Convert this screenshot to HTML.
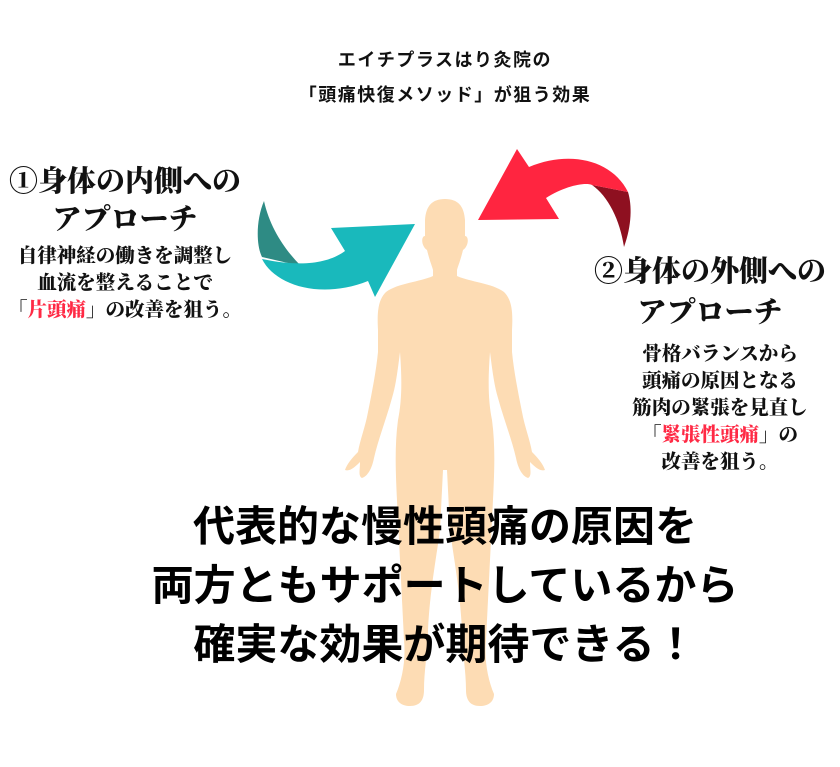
<!DOCTYPE html>
<html><head><meta charset="utf-8"><style>
html,body{margin:0;padding:0;background:#fff;}
body{width:840px;height:767px;position:relative;overflow:hidden;}
.t{position:absolute;white-space:nowrap;text-align:center;}
.sans{font-family:"Liberation Sans","Noto Sans CJK JP",sans-serif;font-weight:bold;color:#111;}
.serif{font-family:"Liberation Serif","Noto Serif CJK SC",serif;font-weight:900;color:#111;}
.red{color:#ff2a45;}
</style></head><body>
<svg width="840" height="767" style="position:absolute;left:0;top:0">
<g fill="#fddcb4">
<path d="M445,199 C432,199 426,206 425,220 L425,236 C421,236 421,246 427,250 C430,262 432,266 433,270 L433,276 C420,282 398,283 386,292 C378,300 377,312 378,330 L378,352 C376,372 372,392 368,412 C365,428 360,440 358,452 C352,458 347,464 345,470 C350,472 356,466 360,462 C360,470 358,476 362,478 C368,476 372,468 374,458 C378,440 386,420 392,398 C396,385 398,368 400,352 C402,380 402,400 398,420 C394,450 396,480 398,520 C400,560 402,600 404,640 C406,660 402,680 396,694 C396,702 402,706 410,706 C420,706 424,700 424,690 C424,670 428,650 428,630 C430,590 436,560 440,530 L443,470 L447,470 L450,530 C454,560 460,590 462,630 C462,650 466,670 466,690 C466,700 470,706 480,706 C488,706 494,702 494,694 C488,680 484,660 486,640 C488,600 490,560 492,520 C494,480 496,450 492,420 C488,400 488,380 490,352 C492,368 494,385 498,398 C504,420 512,440 516,458 C518,468 522,476 528,478 C532,476 530,470 530,462 C534,466 540,472 545,470 C543,464 538,458 532,452 C530,440 525,428 522,412 C518,392 514,372 512,352 L512,330 C513,312 512,300 504,292 C492,283 470,282 457,276 L457,270 C458,266 460,262 463,250 C469,246 469,236 465,236 L465,220 C464,206 458,199 445,199 Z"/>
</g>
<path d="M264,201 C256,220 256,245 262,257 L301,266 C285,250 270,228 264,201 Z" fill="#2e8b84"/>
<path d="M262,259 C275,285 320,300 368,281 L375,297 L415,224 L331,228 L345,251 C330,262 305,268 262,259 Z" fill="#19b9bc"/>
<path d="M592,185 C608,196 620,220 624,247 C632,225 632,205 628,192 Z" fill="#8e1020"/>
<path d="M517,149 L478,220 L559,219 L546,198 C565,186 585,182 592,185 L628,192 C612,160 570,150 529,167 Z" fill="#ff2540"/>
</svg>
<div class="t sans" style="left:195px;top:49px;width:500px;font-size:18px;line-height:22px;letter-spacing:1.5px;">エイチプラスはり灸院の</div>
<div class="t sans" style="left:195px;top:84px;width:500px;font-size:18px;line-height:22px;letter-spacing:1.5px;">「頭痛快復メソッド」が狙う効果</div>

<div class="t serif" style="left:-5px;top:164px;width:260px;font-size:29px;line-height:36px;">①身体の内側への</div>
<div class="t serif" style="left:-5px;top:202px;width:260px;font-size:29px;line-height:36px;">アプローチ</div>
<div class="t serif" style="left:-5px;top:243px;width:260px;font-size:19.5px;line-height:27px;">自律神経の働きを調整し<br>血流を整えることで<br>「<span class="red">片頭痛</span>」の改善を狙う。</div>

<div class="t serif" style="left:585px;top:254px;width:250px;font-size:29px;line-height:36px;">②身体の外側への</div>
<div class="t serif" style="left:585px;top:295px;width:250px;font-size:29px;line-height:36px;">アプローチ</div>
<div class="t serif" style="left:610px;top:341px;width:220px;font-size:19.5px;line-height:27px;">骨格バランスから<br>頭痛の原因となる<br>筋肉の緊張を見直し<br>「<span class="red">緊張性頭痛</span>」の<br>改善を狙う。</div>

<div class="t sans" style="left:45px;top:497px;width:800px;font-size:42px;line-height:59px;color:#000;">代表的な慢性頭痛の原因を<br>両方ともサポートしているから<br>確実な効果が期待できる！</div>
</body></html>
